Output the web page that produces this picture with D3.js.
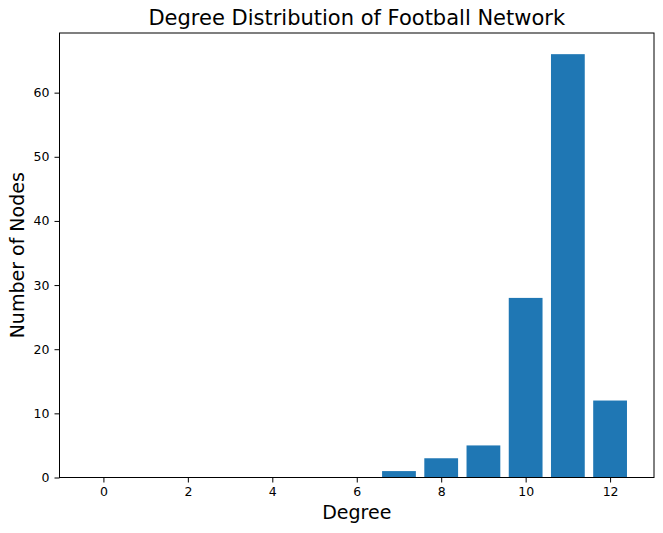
<!DOCTYPE html>
<html>
<head>
<meta charset="utf-8">
<script src="https://cdn.jsdelivr.net/npm/d3@7"></script>
<style>
  body { margin: 0; background: #fff; }
  text { font-family: "DejaVu Sans", sans-serif; fill: #000; }
</style>
</head>
<body>
<svg width="663" height="533"></svg>
<script>
const svg = d3.select("svg");

// data
const degrees = [0, 1, 2, 3, 4, 5, 6, 7, 8, 9, 10, 11, 12];
const counts = [0, 0, 0, 0, 0, 0, 0, 1, 3, 5, 28, 66, 12];
const xTicks = [0, 2, 4, 6, 8, 10, 12];
const yTicks = [0, 10, 20, 30, 40, 50, 60];

const margin = { left: 59.5, right: 9, top: 33, bottom: 55.5 };
const W = 663, H = 533;

const x = d3.scaleLinear().domain([-1.04, 13.04]).range([margin.left, W - margin.right]);
const y = d3.scaleLinear().domain([0, 69.3]).range([H - margin.bottom, margin.top]);

// bars
svg.append("g")
    .selectAll("rect")
    .data(degrees)
    .enter()
    .append("rect")
    .attr("x", (d) => x(d - 0.4))
    .attr("width", x(0.8) - x(0))
    .attr("y", (d, i) => y(counts[i]))
    .attr("height", (d, i) => y(0) - y(counts[i]))
    .attr("fill", "#1f77b4");

// axes
const xAxis = svg.append("g")
    .attr("transform", `translate(0,${y(0)})`)
    .call(d3.axisBottom(x).tickValues(xTicks).tickSize(5).tickPadding(4.5));
const yAxis = svg.append("g")
    .attr("transform", `translate(${margin.left},0)`)
    .call(d3.axisLeft(y).tickValues(yTicks).tickSize(5).tickPadding(5));

[xAxis, yAxis].forEach(a => {
    a.select(".domain").remove();
    a.selectAll("text").attr("font-size", 12.5).attr("font-family", "DejaVu Sans").attr("fill", "#000");
    a.selectAll("line").attr("stroke", "#000").attr("stroke-width", 1);
});

// frame
svg.append("rect")
    .attr("x", margin.left)
    .attr("y", margin.top)
    .attr("width", W - margin.right - margin.left)
    .attr("height", y(0) - margin.top)
    .attr("fill", "none")
    .attr("stroke", "#000")
    .attr("stroke-width", 1);

// labels
svg.append("text")
    .attr("x", (margin.left + W - margin.right) / 2)
    .attr("y", 25)
    .attr("text-anchor", "middle")
    .attr("font-size", 21)
    .text("Degree Distribution of Football Network");

svg.append("text")
    .attr("x", (margin.left + W - margin.right) / 2)
    .attr("y", 519)
    .attr("text-anchor", "middle")
    .attr("font-size", 19)
    .text("Degree");

svg.append("text")
    .attr("transform", `translate(24,${(margin.top + y(0)) / 2}) rotate(-90)`)
    .attr("text-anchor", "middle")
    .attr("font-size", 19)
    .text("Number of Nodes");
</script>
</body>
</html>
